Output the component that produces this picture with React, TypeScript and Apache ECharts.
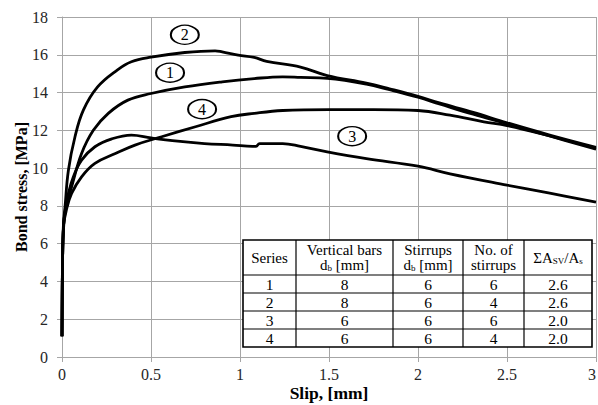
import React, { useEffect, useRef } from "react";
import * as echarts from "echarts";

// ---- data ----
const slip1 = [0, 0.003, 0.009, 0.02, 0.032, 0.054, 0.11, 0.176, 0.26, 0.37, 0.5, 0.69, 0.9, 1.08, 1.24, 1.34, 1.49, 1.71, 1.84, 2.0, 2.12, 2.31, 2.5, 2.74, 3.0];
const stress1 = [1.1, 5.0, 7.0, 7.8, 8.3, 9.01, 10.77, 12.0, 12.9, 13.6, 13.95, 14.3, 14.57, 14.74, 14.83, 14.8, 14.75, 14.45, 14.15, 13.75, 13.4, 12.85, 12.35, 11.7, 11.0];

const slip2 = [0, 0.003, 0.008, 0.017, 0.036, 0.073, 0.12, 0.2, 0.31, 0.39, 0.5, 0.69, 0.86, 0.9, 0.99, 1.08, 1.15, 1.34, 1.49, 1.71, 1.84, 2.0, 2.12, 2.31, 2.5, 2.74, 3.0];
const stress2 = [1.1, 5.0, 7.0, 7.95, 9.89, 11.66, 13.07, 14.3, 15.19, 15.63, 15.87, 16.12, 16.21, 16.15, 15.98, 15.86, 15.65, 15.35, 14.9, 14.5, 14.2, 13.8, 13.45, 12.95, 12.4, 11.75, 11.1];

const slip3 = [0, 0.003, 0.009, 0.02, 0.036, 0.064, 0.11, 0.185, 0.28, 0.39, 0.5, 0.62, 0.8, 0.96, 1.07, 1.09, 1.11, 1.24, 1.34, 1.49, 1.71, 2.0, 2.18, 2.5, 2.74, 3.0];
const stress3 = [1.1, 5.0, 7.0, 7.9, 8.66, 9.54, 10.42, 11.13, 11.55, 11.75, 11.6, 11.45, 11.3, 11.22, 11.15, 11.15, 11.3, 11.3, 11.15, 10.86, 10.5, 10.1, 9.7, 9.1, 8.67, 8.2];

const slip4 = [0, 0.003, 0.01, 0.025, 0.054, 0.11, 0.185, 0.3, 0.41, 0.56, 0.75, 0.95, 1.08, 1.24, 1.5, 1.75, 2.0, 2.18, 2.37, 2.5, 2.74, 3.0];
const stress4 = [1.1, 5.0, 7.0, 7.8, 8.66, 9.54, 10.25, 10.77, 11.22, 11.66, 12.19, 12.72, 12.9, 13.05, 13.1, 13.1, 13.05, 12.8, 12.45, 12.25, 11.7, 11.05];

// circled series labels: [slip, stress, label]
const seriesTags: [number, number, string][] = [
  [0.607, 15.05, "1"],
  [0.69, 17.06, "2"],
  [1.63, 11.69, "3"],
  [0.787, 13.12, "4"],
];

// table
const tableHeader = [
  "Series",
  "Vertical bars\n{s|d}{sub|b}{s| [mm]}",
  "Stirrups\n{s|d}{sub|b}{s| [mm]}",
  "No. of\nstirrups",
  "{s|ΣA}{sub|SV}{s|/A}{sub|s}",
];
const tableSeries = ["1", "2", "3", "4"];
const tableBarDia = ["8", "8", "6", "6"];
const tableStirrupDia = ["6", "6", "6", "6"];
const tableStirrupNo = ["6", "4", "6", "4"];
const tableRatio = ["2.6", "2.6", "2.0", "2.0"];

const FONT = "'Liberation Serif', 'Times New Roman', serif";

function zip(xs: number[], ys: number[]) {
  return xs.map((x, i) => [x, ys[i]]);
}

function buildTable() {
  const colX = [243, 296, 393, 463, 524, 592];
  const rowY = [240, 275, 293, 311, 329, 347];
  const Z = 100;
  const children: any[] = [];
  children.push({
    type: "rect",
    z: Z,
    shape: { x: colX[0], y: rowY[0], width: colX[5] - colX[0], height: rowY[5] - rowY[0] },
    style: { fill: "#fff", stroke: "#000", lineWidth: 1.6 },
  });
  for (let i = 1; i < colX.length - 1; i++) {
    children.push({
      type: "line",
      z: Z + 1,
      shape: { x1: colX[i], y1: rowY[0], x2: colX[i], y2: rowY[5] },
      style: { stroke: "#000", lineWidth: 1.2 },
    });
  }
  for (let j = 1; j < rowY.length - 1; j++) {
    children.push({
      type: "line",
      z: Z + 1,
      shape: { x1: colX[0], y1: rowY[j], x2: colX[5], y2: rowY[j] },
      style: { stroke: "#000", lineWidth: 1.2 },
    });
  }
  const rich = {
    s: { fontFamily: FONT, fontSize: 15, fill: "#000", lineHeight: 15 },
    sub: { fontFamily: FONT, fontSize: 9, fill: "#000", padding: [6, 0, 0, 0], lineHeight: 15 },
  };
  tableHeader.forEach((t, c) => {
    children.push({
      type: "text",
      z: Z + 2,
      x: (colX[c] + colX[c + 1]) / 2,
      y: (rowY[0] + rowY[1]) / 2,
      style: {
        text: t,
        rich,
        fontFamily: FONT,
        fontSize: 15,
        lineHeight: 15,
        fill: "#000",
        align: "center",
        verticalAlign: "middle",
      },
    });
  });
  const cols = [tableSeries, tableBarDia, tableStirrupDia, tableStirrupNo, tableRatio];
  cols.forEach((col, c) => {
    col.forEach((v, r) => {
      children.push({
        type: "text",
        z: Z + 2,
        x: (colX[c] + colX[c + 1]) / 2,
        y: (rowY[r + 1] + rowY[r + 2]) / 2 + 0.5,
        style: {
          text: v,
          fontFamily: FONT,
          fontSize: 15.5,
          fill: "#000",
          align: "center",
          verticalAlign: "middle",
        },
      });
    });
  });
  return [{ type: "group", z: Z, children }];
}

export default function App() {
  const ref = useRef<HTMLDivElement>(null);
  useEffect(() => {
    if (!ref.current) return;
    const chart = echarts.init(ref.current, undefined, { renderer: "svg" });
    const grid = "#a6a6a6";
    const lineSeries = (d: number[][]) => ({
      type: "line",
      data: d,
      showSymbol: false,
      symbol: "none",
      smooth: 0.4,
      lineStyle: { color: "#000", width: 2.8 },
      z: 3,
    });
    chart.setOption({
      animation: false,
      backgroundColor: "#fff",
      grid: { left: 62, right: 2, top: 17, bottom: 48, containLabel: false, outerBoundsMode: "none" },
      xAxis: {
        type: "value",
        min: 0,
        max: 3,
        interval: 0.5,
        name: "Slip, [mm]",
        nameLocation: "middle",
        nameGap: 27,
        nameMoveOverlap: false,
        nameTextStyle: { fontFamily: FONT, fontSize: 17.5, fontWeight: "bold", color: "#000" },
        axisLine: { show: true, lineStyle: { color: grid } },
        axisTick: { show: true, length: 5, lineStyle: { color: grid } },
        axisLabel: { fontFamily: FONT, fontSize: 16, color: "#262626", margin: 9, alignMaxLabel: "right" },
        splitLine: { show: true, lineStyle: { color: grid, width: 1 } },
      },
      yAxis: {
        type: "value",
        min: 0,
        max: 18,
        interval: 2,
        name: "Bond stress, [MPa]",
        nameLocation: "middle",
        nameGap: 33,
        nameMoveOverlap: false,
        nameTextStyle: { fontFamily: FONT, fontSize: 16, fontWeight: "bold", color: "#000" },
        axisLine: { show: true, lineStyle: { color: grid } },
        axisTick: { show: true, length: 5, lineStyle: { color: grid } },
        axisLabel: { fontFamily: FONT, fontSize: 16, color: "#262626", margin: 14 },
        splitLine: { show: true, lineStyle: { color: grid, width: 1 } },
      },
      series: [
        lineSeries(zip(slip1, stress1)),
        lineSeries(zip(slip2, stress2)),
        lineSeries(zip(slip3, stress3)),
        lineSeries(zip(slip4, stress4)),
        {
          type: "scatter",
          z: 5,
          symbol: "circle",
          symbolSize: [28, 19],
          itemStyle: { color: "#fff", borderColor: "#000", borderWidth: 1.7, opacity: 1 },
          label: {
            show: true,
            position: "inside",
            formatter: (p: any) => p.data[2],
            fontFamily: FONT,
            fontSize: 16,
            color: "#000",
          },
          data: seriesTags.map((t) => [t[0], t[1], t[2]]),
        },
      ],
      graphic: buildTable(),
    });
    return () => chart.dispose();
  }, []);
  return <div ref={ref} style={{ width: 598, height: 405, position: "absolute", left: 0, top: 0 }} />;
}
